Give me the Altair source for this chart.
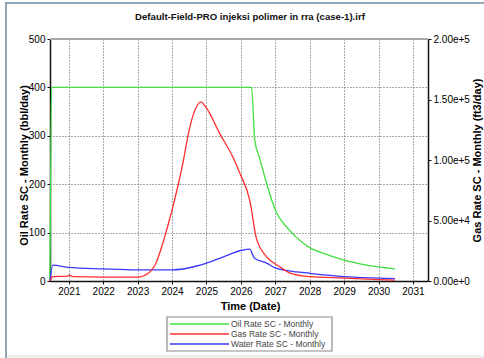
import altair as alt
import pandas as pd

# ---- series data (rates in bbl/day for oil & water, ft3/day for gas) ----
oil_dates = ["2020-06-15", "2020-07-01", "2026-04-25", "2026-05-28", "2026-07-15",
             "2026-09-12", "2026-12-05", "2027-01-01", "2027-06-01", "2028-01-01",
             "2028-07-01", "2029-01-01", "2029-07-01", "2030-01-01", "2030-06-25"]
oil_rate = [0, 400, 400, 291, 256, 215, 161, 147, 105, 69, 55, 43, 35, 29, 25]

gas_dates = ["2020-06-15", "2020-07-15", "2020-12-20", "2021-01-01", "2021-02-15",
             "2022-01-01", "2023-01-01", "2023-05-01", "2023-07-15", "2023-09-25",
             "2023-11-15", "2024-01-10", "2024-04-25", "2024-07-08", "2024-09-20",
             "2024-11-01", "2025-01-01", "2025-05-20", "2025-10-08", "2025-12-20",
             "2026-04-05", "2026-06-15", "2026-10-01", "2027-02-15", "2027-06-01",
             "2028-01-01", "2029-01-01", "2030-01-01", "2030-06-25"]
gas_rate = [0, 3600, 4000, 4800, 3600,
            3200, 3200, 6800, 14800, 31200,
            44800, 61200, 97200, 127200, 144400,
            148000, 142800, 122000, 102400, 89200,
            66800, 35200, 20000, 12000, 6800,
            3600, 2400, 1200, 800]

water_dates = ["2020-06-15", "2020-07-15", "2021-01-01", "2022-01-01", "2023-01-01",
               "2024-01-01", "2024-09-20", "2025-01-01", "2025-07-01", "2026-01-01",
               "2026-04-05", "2026-05-25", "2026-10-01", "2027-01-01", "2027-06-01",
               "2028-01-01", "2029-01-01", "2030-01-01", "2030-06-25"]
water_rate = [0, 33, 28, 25, 23, 23, 31, 37, 50, 63, 66, 47, 37, 27, 21, 16, 9, 6, 5]

series_names = ["Oil Rate SC - Monthly", "Gas Rate SC - Monthly", "Water Rate SC - Monthly"]
series_colors = ["#3fe03f", "#ff2e2e", "#3838ff"]

chart_title = "Default-Field-PRO injeksi polimer in rra (case-1).irf"
year_ticks = [f"{y}-01-01" for y in range(2021, 2032)]
left_ticks = [0, 100, 200, 300, 400, 500]
right_ticks = [0, 50000, 100000, 150000, 200000]

W, H = 378, 242
FONT = "Liberation Sans"

oil_df = pd.DataFrame({"date": oil_dates, "rate": oil_rate, "series": series_names[0]})
water_df = pd.DataFrame({"date": water_dates, "rate": water_rate, "series": series_names[2]})
gas_df = pd.DataFrame({"date": gas_dates, "gas": gas_rate})
left_df = pd.concat([oil_df, water_df], ignore_index=True)

x_enc = alt.X(
    "date:T",
    scale=alt.Scale(domain=["2020-06-15", "2031-06-10"]),
    axis=alt.Axis(
        values=year_ticks, format="%Y", title="Time (Date)",
        titleX=200, titlePadding=4, labelOverlap=False,
        grid=True, gridDash=[1, 2], gridColor="#555555", gridWidth=1,
        domainColor="#111111", domainWidth=1.5,
        tickColor="#111111", tickSize=3, labelPadding=2,
    ),
)

series_color = alt.Color(
    "series:N", scale=alt.Scale(domain=series_names, range=series_colors), legend=None
)

left_lines = alt.Chart(left_df).mark_line(strokeWidth=1.3, interpolate="monotone").encode(
    x=x_enc,
    y=alt.Y(
        "rate:Q",
        scale=alt.Scale(domain=[0, 500]),
        axis=alt.Axis(
            orient="left", values=left_ticks, title="Oil Rate SC - Monthly (bbl/day)",
            titleX=-26, titleY=126, titleAngle=270, titleAlign="center", titleBaseline="middle",
            grid=True, gridDash=[1, 2], gridColor="#555555",
            domainColor="#111111", domainWidth=1.5, tickColor="#111111",
            tickSize=3, labelPadding=2,
        ),
    ),
    color=series_color,
    detail="series:N",
)

gas_line = alt.Chart(gas_df).mark_line(strokeWidth=1.3, color=series_colors[1], interpolate="monotone").encode(
    x=x_enc,
    y=alt.Y(
        "gas:Q",
        scale=alt.Scale(domain=[0, 200000]),
        axis=alt.Axis(
            orient="right", values=right_ticks, format=".2e",
            title="Gas Rate SC - Monthly (ft3/day)",
            titleX=49, titleY=121, titleAngle=270, titleAlign="center", titleBaseline="middle",
            grid=False, domainColor="#111111", domainWidth=1.5,
            tickColor="#111111", tickSize=3, labelPadding=2,
        ),
    ),
)

one = pd.DataFrame({"k": [0]})

# grey line along the top of the plot area
top_line = alt.Chart(one).mark_rule(color="#a8a8a8", strokeWidth=2).encode(
    x=alt.value(0), x2=alt.value(W), y=alt.value(0)
)

# chart title
title_text = alt.Chart(one).mark_text(
    text=chart_title, font=FONT, fontSize=9.6, fontWeight="bold", color="#111111",
    align="center", baseline="middle",
).encode(x=alt.value(200), y=alt.value(-22))

# outer frame (left and top edges) and the grey strip at the bottom
frame_left = alt.Chart(one).mark_rule(color="#6a8aa2", strokeWidth=1.5).encode(
    x=alt.value(-44), y=alt.value(-37), y2=alt.value(H + 77)
)
frame_top = alt.Chart(one).mark_rule(color="#6a8aa2", strokeWidth=1.5).encode(
    x=alt.value(-44), x2=alt.value(W + 56), y=alt.value(-36)
)
bottom_strip = alt.Chart(one).mark_rect(color="#eeeeee").encode(
    x=alt.value(-43), x2=alt.value(W + 56), y=alt.value(H + 74), y2=alt.value(H + 77)
)

# legend box below the x axis title
legend_df = pd.DataFrame({"series": series_names, "row": [0, 1, 2]})
legend_box = alt.Chart(one).mark_rect(fill="white", stroke="#8c8c8c", strokeWidth=1.2).encode(
    x=alt.value(117), x2=alt.value(282), y=alt.value(278), y2=alt.value(312)
)
legend_y = alt.Y("row:Q", scale=alt.Scale(domain=[0, 2], range=[285, 305]), axis=None)
legend_lines = alt.Chart(legend_df).mark_rule(strokeWidth=1.5).encode(
    x=alt.value(120), x2=alt.value(179),
    y=legend_y,
    color=series_color,
)
legend_text = alt.Chart(legend_df).mark_text(
    align="left", baseline="middle", font=FONT, fontSize=8.5, color="#444444"
).encode(
    x=alt.value(181), y=legend_y, text="series:N"
)

chart = alt.layer(
    left_lines, gas_line, top_line, title_text,
    frame_left, frame_top, bottom_strip,
    legend_box, legend_lines, legend_text,
).resolve_scale(
    y="independent", color="shared"
).properties(
    width=W, height=H,
    autosize=alt.AutoSizeParams(type="none"),
    padding={"left": 50, "top": 39, "right": 56, "bottom": 77},
).configure_view(
    stroke=None
).configure_axis(
    labelFont=FONT, labelFontSize=9, labelColor="#333333",
    titleFont=FONT, titleFontSize=9, titleFontWeight="bold", titleColor="#111111",
).configure(background="white")

chart.save("out.html", embed_options={"renderer": "svg", "actions": False})
